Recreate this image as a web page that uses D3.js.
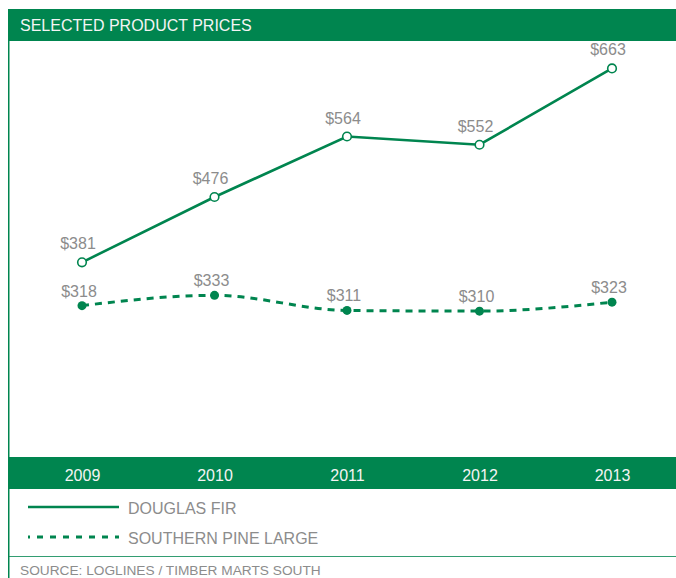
<!DOCTYPE html>
<html>
<head>
<meta charset="utf-8">
<script src="https://cdn.jsdelivr.net/npm/d3@7"></script>
<style>
  html, body { margin: 0; padding: 0; background: #fff; }
  svg { display: block; font-family: "Liberation Sans", Arial, sans-serif; }
</style>
</head>
<body>
<svg id="chart" width="676" height="578"></svg>
<script>
// Annual prices per series
const years = ["2009", "2010", "2011", "2012", "2013"];
const douglasFir = [381, 476, 564, 552, 663];
const southernPine = [318, 333, 311, 310, 323];
const seriesNames = ["DOUGLAS FIR", "SOUTHERN PINE LARGE"];
const title = "SELECTED PRODUCT PRICES";
const source = "SOURCE: LOGLINES / TIMBER MARTS SOUTH";

const GREEN = "#00854f";
const LABEL = "#8c8c8c";

const svg = d3.select("#chart");

// Frame: left rule, title band, axis band, separator
svg.append("line").attr("x1", 8.75).attr("x2", 8.75).attr("y1", 41).attr("y2", 578)
  .attr("stroke", GREEN).attr("stroke-width", 1.5);
svg.append("rect").attr("x", 8).attr("y", 9).attr("width", 668).attr("height", 32).attr("fill", GREEN);
svg.append("text").attr("x", 20).attr("y", 30.5).attr("fill", "#f4f4f4")
  .attr("font-size", 16).text(title);

const x = d3.scalePoint().domain(years).range([82, 612]);
const y = d3.scaleLinear().domain([100, 700]).range([455.5, 43]);

// Axis band with year labels
svg.append("rect").attr("x", 8).attr("y", 457).attr("width", 668).attr("height", 32).attr("fill", GREEN);
const axis = d3.axisBottom(x).tickSize(0).tickPadding(0);
const gAxis = svg.append("g").attr("transform", "translate(0,469.5)").call(axis);
gAxis.select(".domain").remove();
gAxis.selectAll("text").attr("fill", "#f4f4f4").attr("font-size", 16)
  .attr("font-family", "Liberation Sans, Arial, sans-serif").attr("dy", "0.71em");

svg.append("line").attr("x1", 8).attr("x2", 676).attr("y1", 556.5).attr("y2", 556.5)
  .attr("stroke", GREEN).attr("stroke-width", 1.2).attr("stroke-opacity", 0.8);
svg.append("text").attr("x", 20).attr("y", 575).attr("fill", LABEL)
  .attr("font-size", 13.7).text(source);

// Douglas fir: solid line, open markers
const fir = years.map((yr, i) => ({ yr, v: douglasFir[i] }));
const pine = years.map((yr, i) => ({ yr, v: southernPine[i] }));

svg.append("path").datum(fir)
  .attr("fill", "none").attr("stroke", GREEN).attr("stroke-width", 2.6)
  .attr("d", d3.line().x(d => x(d.yr)).y(d => y(d.v)));

// Southern pine: smoothed dashed line, filled markers
svg.append("path").datum(pine)
  .attr("fill", "none").attr("stroke", GREEN).attr("stroke-width", 3)
  .attr("stroke-dasharray", "7,6")
  .attr("d", d3.line().curve(d3.curveMonotoneX).x(d => x(d.yr)).y(d => y(d.v)));

svg.selectAll(".fir-pt").data(fir).join("circle")
  .attr("cx", d => x(d.yr)).attr("cy", d => y(d.v)).attr("r", 4.3)
  .attr("fill", "#fff").attr("stroke", GREEN).attr("stroke-width", 1.6);
svg.selectAll(".pine-pt").data(pine).join("circle")
  .attr("cx", d => x(d.yr)).attr("cy", d => y(d.v)).attr("r", 4.5)
  .attr("fill", GREEN);

svg.selectAll(".fir-lbl").data(fir).join("text")
  .attr("x", d => x(d.yr) - 4).attr("y", d => y(d.v) - 13)
  .attr("text-anchor", "middle").attr("fill", LABEL).attr("font-size", 16)
  .text(d => "$" + d.v);
svg.selectAll(".pine-lbl").data(pine).join("text")
  .attr("x", d => x(d.yr) - 3).attr("y", d => y(d.v) - 9)
  .attr("text-anchor", "middle").attr("fill", LABEL).attr("font-size", 16)
  .text(d => "$" + d.v);

// Legend
const legend = svg.append("g");
const dashes = [null, "6,7"];
seriesNames.forEach((name, i) => {
  const ly = 507 + i * 30;
  legend.append("line").attr("x1", 28).attr("x2", 119).attr("y1", ly).attr("y2", ly)
    .attr("stroke", GREEN).attr("stroke-width", i === 0 ? 2.6 : 3)
    .attr("stroke-dasharray", dashes[i]).attr("stroke-dashoffset", 4);
  legend.append("text").attr("x", 128).attr("y", ly + 6.5).attr("fill", LABEL)
    .attr("font-size", 16).text(name);
});
</script>
</body>
</html>
